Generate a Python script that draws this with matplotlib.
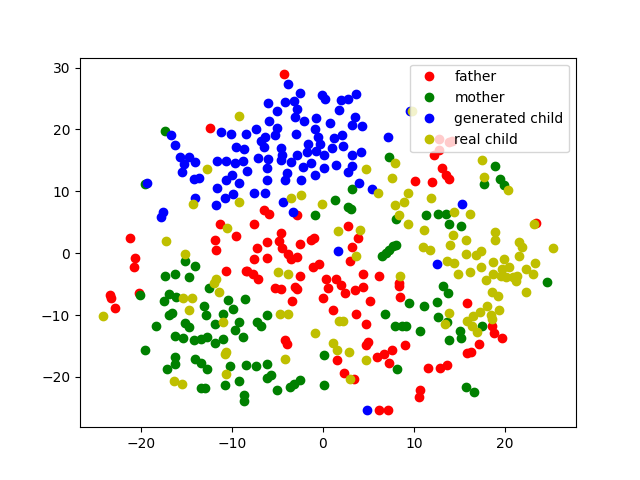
import matplotlib
matplotlib.use("Agg")
import matplotlib.pyplot as plt
import numpy as np

father = [
    (-4.3, 28.9), (-12.4, 20.3), (-21.2, 2.5), (-20.6, -0.7), (-20.8, -2.3),
    (-23.4, -6.8), (-23.3, -7.3), (-22.8, -8.9), (-20.2, -6.4), (-11.3, 4.8),
    (-11.9, 2.2), (-11.8, 0.6), (-9.6, 2.8), (-10.6, -2.9), (-8.4, -2.9),
    (-2.8, 6.2), (-6.5, 7.0), (-5.9, 6.4), (-7.6, 4.8), (-4.6, 3.3),
    (-6.1, 1.8), (-4.8, 1.9), (-7.2, 0.8), (-4.5, 0.8), (-7.6, -0.9),
    (-6.2, -0.7), (-3.8, -0.2), (-3.5, -1.0), (-2.8, -0.6), (-2.5, 1.5),
    (-1.3, 2.2), (-1.0, 2.4), (-0.4, -1.7), (-1.1, -2.3), (-8.3, -2.8),
    (-7.7, -3.4), (-7.1, -4.1), (-5.3, -5.7), (-4.6, -5.8), (-3.1, -5.5),
    (-2.8, -5.8), (-2.5, -3.6), (-3.4, -7.8), (0.35, -4.1), (1.45, -4.2),
    (0.5, -5.7), (2.0, -5.2), (2.4, -6.5), (0.0, -7.3), (3.5, -6.0),
    (4.4, -5.5), (4.4, -3.4), (6.2, -3.6), (5.2, -7.7), (2.7, 4.4),
    (3.8, 2.4), (3.2, 1.0), (3.0, -1.3), (8.3, -4.8), (8.3, -5.3),
    (8.4, -7.1), (10.1, 11.6), (12.0, 11.5), (13.1, 13.8), (13.5, 12.6),
    (13.8, 12.0), (12.2, 15.9), (12.7, 16.7), (12.7, 18.5), (13.8, 18.0),
    (14.2, 18.2), (23.4, 4.9), (15.8, -8.1), (18.5, -11.8), (18.8, -12.9),
    (19.6, -13.7), (17.1, -14.7), (15.8, -16.2), (16.3, -15.9), (9.0, -14.9),
    (11.5, -18.5), (12.8, -18.5), (13.6, -18.0), (10.7, -22.1), (10.5, -23.3),
    (1.15, -9.2), (3.6, -9.8), (4.7, -11.4), (-4.2, -14.0), (-4.0, -14.6),
    (4.9, -14.4), (4.7, -14.9), (5.9, -16.7), (6.7, -16.3), (7.6, -15.6),
    (7.2, -17.8), (1.5, -17.2), (2.3, -19.4), (3.4, -20.3), (6.1, -25.3),
    (7.1, -25.4),
]

mother = [
    (-17.3, 19.8), (7.2, 15.5), (18.9, 14.1), (19.4, 12.0), (17.7, 11.2),
    (19.9, 11.0), (3.2, 10.3), (1.3, 8.6), (2.8, 7.5), (3.1, 7.2),
    (-0.9, 6.2), (8.0, 5.6), (6.5, -0.4), (6.9, 0.1), (7.3, 0.6),
    (7.7, 1.1), (8.0, 1.3), (-8.6, -7.4), (9.4, -8.0), (11.3, 6.2),
    (12.6, 6.4), (13.5, 6.4), (13.8, 4.7), (15.2, 4.4), (24.6, -4.6),
    (13.2, -5.3), (13.7, -6.4), (12.5, -7.9), (11.1, -8.5), (12.6, -10.3),
    (13.6, -11.1), (10.6, -12.5), (15.0, -12.5), (15.2, -13.7), (13.8, -14.1),
    (17.5, -11.8), (9.1, -11.8), (15.7, -21.6), (16.6, -22.5), (-16.9, -6.6),
    (-16.1, -7.1), (-17.5, -7.8), (-13.1, -8.6), (-12.8, -10.0), (-16.9, -10.0),
    (-16.6, -9.7), (-11.0, -9.8), (-9.9, -9.0), (-10.4, -7.5), (-18.3, -11.8),
    (-15.1, -11.3), (-14.7, -12.0), (-11.9, -11.5), (-9.2, -11.1), (-9.7, -12.4),
    (-8.8, -13.6), (-16.3, -13.3), (-15.4, -13.7), (-14.2, -14.0), (-13.4, -13.8),
    (-12.7, -13.5), (-11.9, -14.5), (-11.0, -13.8), (-19.5, -15.6), (-16.3, -16.7),
    (-16.2, -17.9), (-17.1, -18.7), (-14.1, -17.1), (-13.4, -17.8), (-12.7, -18.7),
    (-10.2, -18.3), (-8.4, -18.0), (-10.8, -21.3), (-9.2, -20.6), (-13.4, -21.8),
    (-12.9, -21.8), (-8.7, -22.9), (-8.7, -23.9), (-19.5, 11.2), (-15.2, -1.3),
    (-14.0, -2.1), (-17.3, -3.6), (-16.3, -3.3), (-14.7, -3.8), (-12.5, -5.7),
    (-20.1, -6.8), (-6.2, -10.0), (-7.2, -11.1), (-6.8, -11.8), (6.8, -9.8),
    (7.9, -11.7), (8.7, -11.8), (0.1, -16.4), (-7.3, -18.3), (-6.2, -17.9),
    (-5.7, -19.6), (-6.1, -20.2), (-5.1, -22.1), (-3.6, -21.6), (-3.2, -21.1),
    (-2.5, -20.5), (0.1, -21.3), (8.1, -18.7),
]

generated_child = [
    (-16.7, 19.1), (-16.2, 17.5), (-15.7, 15.6), (-14.7, 15.6), (-15.3, 14.4),
    (-15.5, 13.2), (-14.0, 14.7), (-14.2, 12.0), (-13.6, 12.2), (-19.3, 11.4),
    (-11.2, 19.6), (-10.1, 19.2), (-8.4, 19.3), (-9.6, 17.2), (-8.7, 16.9),
    (-11.6, 14.9), (-10.6, 14.9), (-9.7, 14.6), (-8.8, 14.9), (-8.3, 13.3),
    (-10.6, 11.8), (-10.0, 12.6), (-9.2, 11.3), (-3.8, 27.4), (-2.5, 25.9),
    (-0.1, 25.6), (0.2, 25.0), (-6.0, 24.3), (-4.2, 24.4), (-3.2, 24.6),
    (-2.9, 23.3), (-5.0, 23.0), (-3.1, 22.0), (-2.1, 21.3), (-0.8, 21.9),
    (2.0, 24.7), (2.8, 25.0), (3.6, 25.8), (1.8, 23.1), (3.5, 22.0),
    (3.2, 20.8), (4.3, 20.5), (0.8, 21.1), (-5.9, 21.3), (-7.3, 20.0),
    (-5.0, 20.3), (-5.3, 19.1), (-6.4, 18.8), (-6.8, 18.2), (-6.5, 17.1),
    (-3.0, 19.3), (-0.9, 20.0), (-0.5, 18.8), (-0.3, 17.7), (-0.75, 16.5),
    (-1.7, 17.7), (-1.8, 16.4), (1.2, 18.6), (2.1, 19.1), (1.0, 17.0),
    (2.2, 17.3), (-4.6, 17.0), (-4.5, 15.9), (-4.6, 15.1), (-2.8, 15.9),
    (-3.5, 14.7), (-3.9, 13.0), (-4.2, 11.8), (-1.3, 14.6), (-2.2, 13.9),
    (-0.9, 12.6), (0.1, 15.9), (0.1, 13.7), (1.45, 14.3), (3.2, 15.9),
    (4.2, 16.4), (3.2, 14.1), (2.7, 13.1), (7.1, 18.8), (-7.1, 15.4),
    (-6.0, 15.3), (-6.2, 13.7), (-6.1, 11.8), (-2.4, 11.8), (4.0, 11.3),
    (9.5, 23.0), (-7.6, 9.8), (-6.4, 9.8), (-4.4, 8.3), (-3.3, 6.7),
    (5.4, 10.4), (1.6, 0.4), (-17.6, 6.7), (-17.8, 5.9), (-14.1, 8.9),
    (-11.6, 10.6), (-11.7, 7.8), (-10.8, 8.9), (-9.9, 9.6), (15.3, 7.9),
    (12.5, -1.7), (4.8, -25.4),
]

real_child = [
    (7.9, 14.6), (7.6, 12.2), (4.75, 13.6), (17.5, 15.0), (17.7, 12.3),
    (9.8, 23.0), (20.3, 10.2), (-24.2, -10.2), (-14.7, -9.2), (-11.0, -11.1),
    (-10.8, -16.3), (-10.6, -16.0), (-10.7, -19.5), (-16.4, -20.7), (-15.5, -21.1),
    (-9.2, 8.2), (-14.3, 8.0), (-10.5, 4.0), (-17.2, 1.9), (-15.1, -0.2),
    (-11.7, -4.1), (-12.0, -4.8), (-11.4, -6.2), (-15.4, -7.2), (-14.4, -7.3),
    (-3.5, 8.9), (-2.4, 9.4), (-0.1, 7.9), (6.0, 9.8), (9.3, 9.7),
    (8.9, 8.3), (7.9, 7.8), (8.3, 6.2), (9.3, 4.7), (1.7, 3.6),
    (4.1, 3.7), (3.6, -0.5), (-4.9, -3.0), (-3.8, -3.3), (8.4, -3.7),
    (11.9, 8.9), (14.4, 6.6), (16.1, 6.4), (11.1, 3.8), (14.3, 2.9),
    (13.9, 1.3), (15.7, 2.1), (18.9, 3.5), (18.9, 2.1), (23.2, 4.8),
    (11.0, 1.0), (11.7, 0.5), (13.6, -1.2), (14.4, -1.6), (15.7, -0.2),
    (16.8, -0.3), (17.3, 0.4), (14.8, -3.4), (16.1, -3.0), (17.3, -2.3),
    (17.9, -4.4), (18.7, -1.4), (18.7, -3.3), (19.9, -0.9), (19.7, -2.6),
    (20.4, -2.3), (19.5, -3.6), (20.1, -3.8), (21.5, 1.8), (21.8, 1.0),
    (21.5, -0.5), (23.3, -1.6), (22.3, -2.6), (20.9, -3.9), (21.3, -3.6),
    (21.2, -4.5), (23.0, -3.3), (25.3, 0.8), (22.3, -6.2), (18.5, -6.2),
    (19.2, -6.9), (18.0, -8.5), (13.8, -9.6), (13.4, -11.5), (17.2, -9.5),
    (16.5, -10.2), (15.8, -11.0), (16.4, -11.7), (16.9, -12.8), (18.4, -10.0),
    (18.5, -10.7), (19.3, -9.2), (-4.7, -9.9), (-3.8, -9.8), (1.8, -11.0),
    (2.2, -10.9), (-0.9, -12.9), (1.1, -14.5), (1.5, -15.7), (2.9, -15.9),
    (-4.2, -17.1), (4.7, -17.3), (3.0, -20.3), (-9.2, 22.2), (-12.7, 13.6),
]

labels = ["father", "mother", "generated child", "real child"]
series = [father, mother, generated_child, real_child]
styles = ["ro", "go", "bo", "yo"]

fig, ax = plt.subplots(figsize=(6.4, 4.8), dpi=100)
for pts, st, lab in zip(series, styles, labels):
    a = np.array(pts)
    ax.plot(a[:, 0], a[:, 1], st, label=lab)
ax.legend(loc="upper right")
fig.savefig("out.png")
